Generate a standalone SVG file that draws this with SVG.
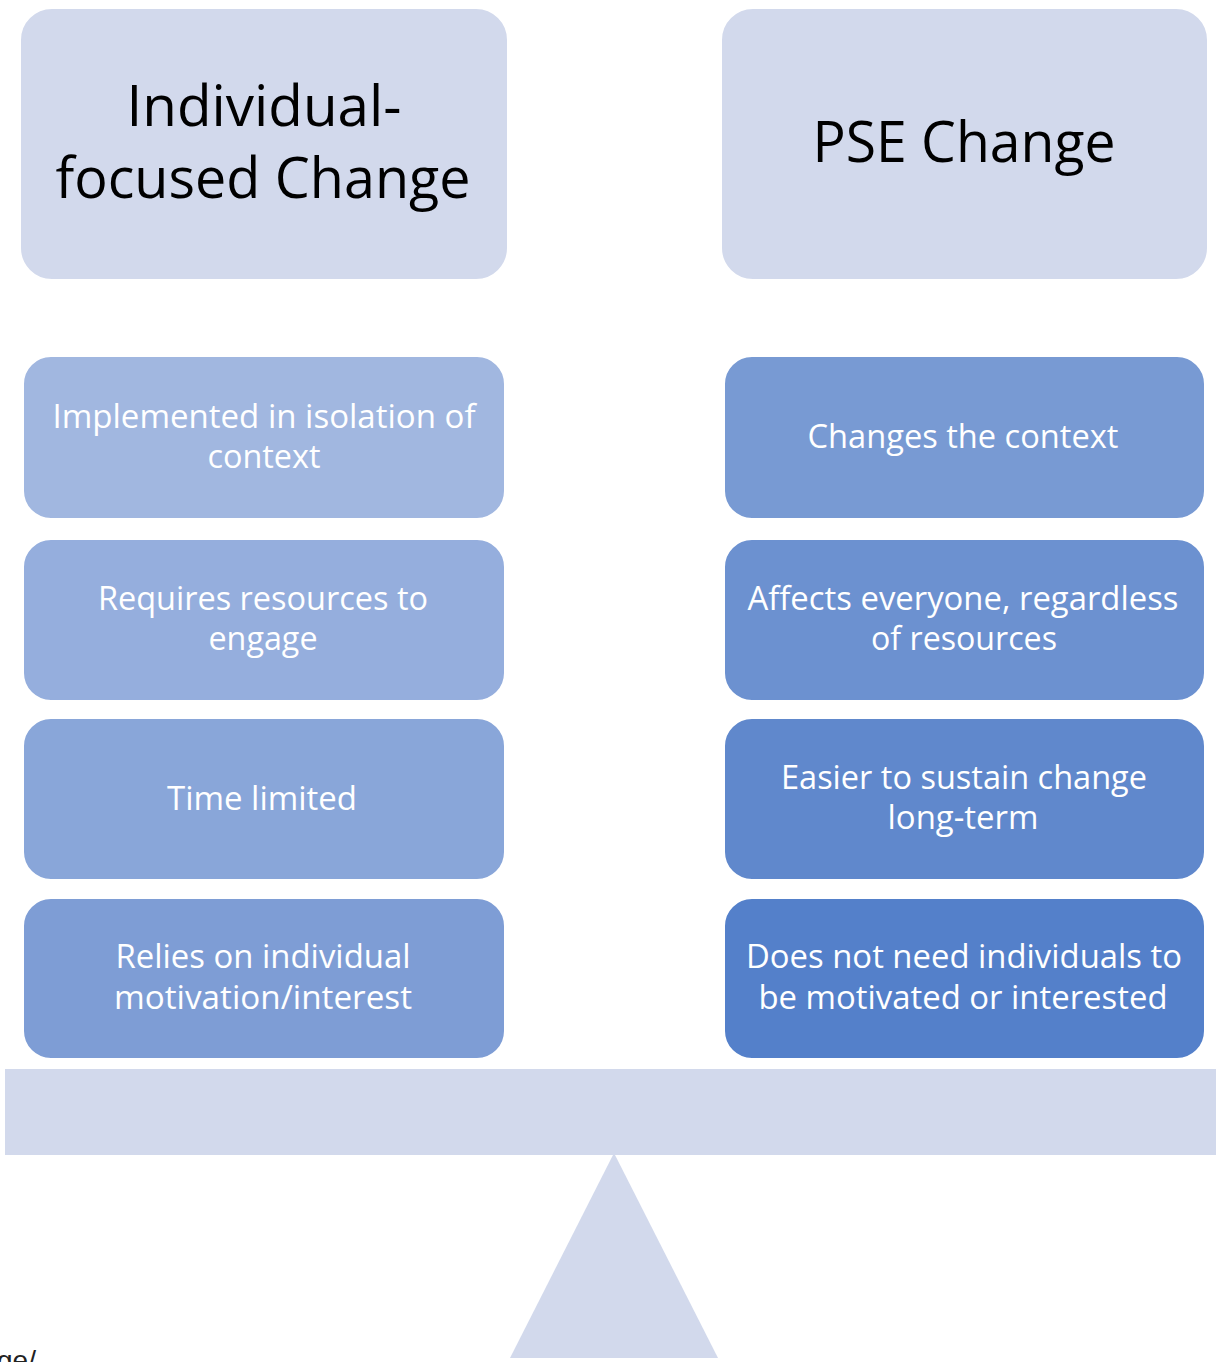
<svg xmlns="http://www.w3.org/2000/svg" width="1216" height="1362" viewBox="0 0 1216 1362">
<style>
.bg{fill:#ffffff}
.head{fill:#D2D9EC;stroke:#ffffff;stroke-width:2}
.item{stroke:#ffffff;stroke-width:2}
.ht{font-family:"Open Sans","Liberation Sans",sans-serif;font-size:57px;fill:#000000;text-anchor:middle}
.it{font-family:"Open Sans","Liberation Sans",sans-serif;font-size:32px;fill:#ffffff;text-anchor:middle}
.base{fill:#D2D9EC}
.note{font-family:"Liberation Sans",Arial,sans-serif;font-size:28px;fill:#222222}
</style>
<rect class="bg" x="0" y="0" width="1216" height="1362"/>
<g id="head-left">
<rect class="head" x="20" y="8" width="488" height="272" rx="32"/>
<text class="ht" x="264" y="126" textLength="275" lengthAdjust="spacingAndGlyphs">Individual-</text>
<text class="ht" x="263" y="198" textLength="415" lengthAdjust="spacingAndGlyphs">focused Change</text>
</g>
<g id="head-right">
<rect class="head" x="721" y="8" width="487" height="272" rx="32"/>
<text class="ht" x="964" y="162" textLength="303" lengthAdjust="spacingAndGlyphs">PSE Change</text>
</g>
<g id="left-1">
<rect class="item" x="23" y="356" width="482" height="163" rx="28" fill="#A1B7E0"/>
<text class="it" x="264" y="428" textLength="423" lengthAdjust="spacingAndGlyphs">Implemented in isolation of</text>
<text class="it" x="264" y="468" textLength="113" lengthAdjust="spacingAndGlyphs">context</text>
</g>
<g id="left-2">
<rect class="item" x="23" y="539" width="482" height="162" rx="28" fill="#95AEDD"/>
<text class="it" x="263" y="610" textLength="330" lengthAdjust="spacingAndGlyphs">Requires resources to</text>
<text class="it" x="263" y="650" textLength="109" lengthAdjust="spacingAndGlyphs">engage</text>
</g>
<g id="left-3">
<rect class="item" x="23" y="718" width="482" height="162" rx="28" fill="#89A6D9"/>
<text class="it" x="262" y="810" textLength="190" lengthAdjust="spacingAndGlyphs">Time limited</text>
</g>
<g id="left-4">
<rect class="item" x="23" y="898" width="482" height="161" rx="28" fill="#7E9DD5"/>
<text class="it" x="263" y="968" textLength="295" lengthAdjust="spacingAndGlyphs">Relies on individual</text>
<text class="it" x="263" y="1009" textLength="298" lengthAdjust="spacingAndGlyphs">motivation/interest</text>
</g>
<g id="right-1">
<rect class="item" x="724" y="356" width="481" height="163" rx="28" fill="#789AD3"/>
<text class="it" x="963" y="448" textLength="311" lengthAdjust="spacingAndGlyphs">Changes the context</text>
</g>
<g id="right-2">
<rect class="item" x="724" y="539" width="481" height="162" rx="28" fill="#6C91D0"/>
<text class="it" x="963" y="610" textLength="431" lengthAdjust="spacingAndGlyphs">Affects everyone, regardless</text>
<text class="it" x="964" y="650" textLength="186" lengthAdjust="spacingAndGlyphs">of resources</text>
</g>
<g id="right-3">
<rect class="item" x="724" y="718" width="481" height="162" rx="28" fill="#6088CC"/>
<text class="it" x="964" y="789" textLength="366" lengthAdjust="spacingAndGlyphs">Easier to sustain change</text>
<text class="it" x="963" y="829" textLength="151" lengthAdjust="spacingAndGlyphs">long-term</text>
</g>
<g id="right-4">
<rect class="item" x="724" y="898" width="481" height="161" rx="28" fill="#5480CA"/>
<text class="it" x="964" y="968" textLength="436" lengthAdjust="spacingAndGlyphs">Does not need individuals to</text>
<text class="it" x="963" y="1009" textLength="409" lengthAdjust="spacingAndGlyphs">be motivated or interested</text>
</g>
<g id="connectors"></g>
<g id="scale">
<rect class="base" x="5" y="1069" width="1211" height="86"/>
<polygon class="base" points="614,1153 510,1358 718,1358"/>
</g>
<text class="note" x="-3" y="1370">ge/</text>
</svg>
